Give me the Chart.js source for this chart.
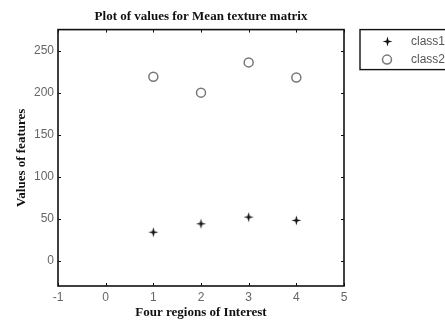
<!DOCTYPE html>
<html>
<head>
<meta charset="utf-8">
<script src="https://cdn.jsdelivr.net/npm/chart.js@4/dist/chart.umd.min.js"></script>
<style>
  html, body { margin: 0; padding: 0; background: #fff; }
  #wrap { width: 445px; height: 320px; }
</style>
</head>
<body>
<div id="wrap"><canvas id="chart" width="445" height="320"></canvas></div>
<script>
const regions = [1, 2, 3, 4];
const class1 = [34, 44, 52, 48];
const class2 = [219, 200, 236, 218];
const yTicks = [0, 50, 100, 150, 200, 250];
const seriesNames = ["class1", "class2"];

const serif = "'Liberation Serif', 'Times New Roman', serif";
const sans = "'Liberation Sans', Arial, sans-serif";

// matlab '*' marker at this size looks like a small 4 point sparkle
function sparkle() {
  const c = document.createElement("canvas");
  c.width = 11; c.height = 11;
  const g = c.getContext("2d");
  g.fillStyle = "#111";
  g.beginPath();
  g.moveTo(5.5, 0.5);
  g.lineTo(6.6, 4.4);
  g.lineTo(10.5, 5.5);
  g.lineTo(6.6, 6.6);
  g.lineTo(5.5, 10.5);
  g.lineTo(4.4, 6.6);
  g.lineTo(0.5, 5.5);
  g.lineTo(4.4, 4.4);
  g.closePath();
  g.fill();
  return c;
}
const starImg = sparkle();

// box around the plot with small inward ticks on all four sides
const boxPlugin = {
  id: "box",
  afterDatasetsDraw(chart) {
    const { ctx, chartArea: a, scales } = chart;
    ctx.save();
    ctx.strokeStyle = "#111";
    ctx.lineWidth = 1;
    const len = 3;
    scales.x.ticks.forEach(t => {
      const px = Math.round(scales.x.getPixelForValue(t.value)) + 0.5;
      ctx.beginPath();
      ctx.moveTo(px, a.bottom); ctx.lineTo(px, a.bottom - len);
      ctx.moveTo(px, a.top); ctx.lineTo(px, a.top + len);
      ctx.stroke();
    });
    scales.y.ticks.forEach(t => {
      const py = Math.round(scales.y.getPixelForValue(t.value)) + 0.5;
      ctx.beginPath();
      ctx.moveTo(a.left, py); ctx.lineTo(a.left + len, py);
      ctx.moveTo(a.right, py); ctx.lineTo(a.right - len, py);
      ctx.stroke();
    });
    ctx.lineWidth = 1.6;
    ctx.strokeRect(a.left, a.top, a.right - a.left, a.bottom - a.top);
    ctx.restore();
  }
};

// legend box right of the axes, cut off by the canvas edge
const legendPlugin = {
  id: "boxLegend",
  afterDraw(chart) {
    const { ctx, chartArea: a } = chart;
    const x0 = a.right + 16;
    const y0 = a.top;
    ctx.save();
    ctx.fillStyle = "#fff";
    ctx.strokeStyle = "#111";
    ctx.lineWidth = 1.4;
    ctx.fillRect(x0, y0, 120, 40);
    ctx.strokeRect(x0, y0, 120, 40);
    chart.data.datasets.forEach((ds, i) => {
      const cy = y0 + 12 + i * 18;
      const mx = x0 + 27;
      if (ds.pointStyle === starImg) {
        ctx.drawImage(starImg, Math.round(mx - 5.5), Math.round(cy - 5.5));
      } else {
        ctx.strokeStyle = ds.borderColor;
        ctx.lineWidth = ds.borderWidth;
        ctx.beginPath();
        ctx.arc(mx, cy, ds.pointRadius, 0, Math.PI * 2);
        ctx.stroke();
      }
      ctx.fillStyle = "#555";
      ctx.font = "12px " + sans;
      ctx.textBaseline = "middle";
      ctx.fillText(ds.label, x0 + 51, cy);
    });
    ctx.restore();
  }
};

const whiteBg = {
  id: "whiteBg",
  beforeDraw(chart) {
    const { ctx, width, height } = chart;
    ctx.save();
    ctx.fillStyle = "#fff";
    ctx.fillRect(0, 0, width, height);
    ctx.restore();
  }
};

new Chart(document.getElementById("chart"), {
  type: "scatter",
  data: {
    datasets: [
      {
        label: seriesNames[0],
        data: regions.map((r, i) => ({ x: r, y: class1[i] })),
        pointStyle: starImg,
        pointRadius: 5,
        borderColor: "#111",
        backgroundColor: "#111",
        borderWidth: 1
      },
      {
        label: seriesNames[1],
        data: regions.map((r, i) => ({ x: r, y: class2[i] })),
        pointStyle: "circle",
        pointRadius: 4.5,
        borderColor: "#777",
        backgroundColor: "rgba(0,0,0,0)",
        borderWidth: 1.5
      }
    ]
  },
  options: {
    responsive: false,
    animation: false,
    layout: { padding: { left: 0, right: 101, top: 0, bottom: 0 } },
    plugins: {
      legend: { display: false },
      tooltip: { enabled: false },
      title: {
        display: true,
        fullSize: false,
        text: "Plot of values for Mean texture matrix",
        color: "#111",
        font: { family: serif, size: 13, weight: "bold" },
        padding: { top: 9, bottom: 5 }
      }
    },
    scales: {
      x: {
        type: "linear",
        min: -1,
        max: 5,
        ticks: { stepSize: 1, color: "#666", padding: 4, font: { family: sans, size: 12 } },
        grid: { drawOnChartArea: false, drawTicks: false },
        border: { display: false },
        title: {
          display: true,
          text: "Four regions of Interest",
          color: "#111",
          font: { family: serif, size: 13, weight: "bold" },
          padding: { top: 0, bottom: 0 }
        },
        afterFit(scale) { scale.height = 34; }
      },
      y: {
        type: "linear",
        min: -30,
        max: 275,
        afterBuildTicks(scale) { scale.ticks = yTicks.map(v => ({ value: v })); },
        ticks: { color: "#666", padding: 4, font: { family: sans, size: 12 } },
        grid: { drawOnChartArea: false, drawTicks: false },
        border: { display: false },
        title: {
          display: true,
          text: "Values of features",
          color: "#111",
          font: { family: serif, size: 13, weight: "bold" },
          padding: { top: 14, bottom: 0 }
        },
        afterFit(scale) { scale.width = 58; }
      }
    }
  },
  plugins: [whiteBg, boxPlugin, legendPlugin]
});
</script>
</body>
</html>
